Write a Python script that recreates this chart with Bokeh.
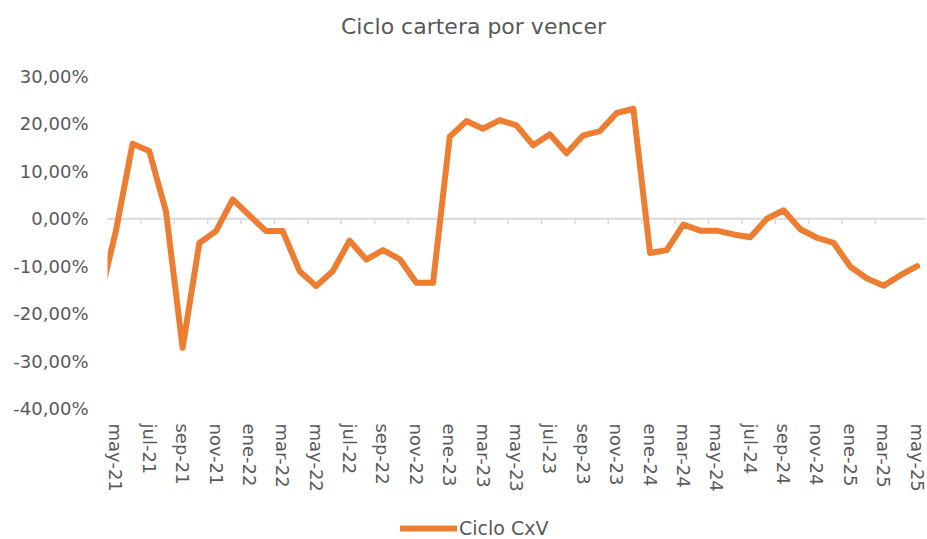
from bokeh.plotting import figure
from bokeh.layouts import column
from bokeh.models import FixedTicker, Span, Legend, LegendItem, Label, ColumnDataSource
from bokeh.embed import file_html
from bokeh.resources import INLINE

# ---- data ----
months = [
    "abr-21", "may-21", "jun-21", "jul-21", "ago-21", "sep-21", "oct-21", "nov-21", "dic-21",
    "ene-22", "feb-22", "mar-22", "abr-22", "may-22", "jun-22", "jul-22", "ago-22", "sep-22",
    "oct-22", "nov-22", "dic-22",
    "ene-23", "feb-23", "mar-23", "abr-23", "may-23", "jun-23", "jul-23", "ago-23", "sep-23",
    "oct-23", "nov-23", "dic-23",
    "ene-24", "feb-24", "mar-24", "abr-24", "may-24", "jun-24", "jul-24", "ago-24", "sep-24",
    "oct-24", "nov-24", "dic-24",
    "ene-25", "feb-25", "mar-25", "abr-25", "may-25",
]
ciclo_cxv = [
    -17.4, -2.6, 15.8, 14.3, 1.6, -27.2, -5.1, -2.6, 4.1,
    0.7, -2.6, -2.6, -11.0, -14.2, -11.0, -4.6, -8.6, -6.6,
    -8.5, -13.5, -13.5,
    17.3, 20.6, 19.0, 20.8, 19.7, 15.5, 17.8, 13.8, 17.6,
    18.5, 22.3, 23.2,
    -7.2, -6.6, -1.2, -2.5, -2.5, -3.3, -3.9, 0.0, 1.8,
    -2.2, -4.0, -5.1,
    -10.1, -12.6, -14.1, -11.9, -10.0,
]
y_ticks = [-40, -30, -20, -10, 0, 10, 20, 30]
y_tick_labels = ["-40,00%", "-30,00%", "-20,00%", "-10,00%", "0,00%", "10,00%", "20,00%", "30,00%"]
x_tick_labels = ["may-21", "jul-21", "sep-21", "nov-21", "ene-22", "mar-22", "may-22", "jul-22",
                 "sep-22", "nov-22", "ene-23", "mar-23", "may-23", "jul-23", "sep-23", "nov-23",
                 "ene-24", "mar-24", "may-24", "jul-24", "sep-24", "nov-24", "ene-25", "mar-25",
                 "may-25"]
title_text = "Ciclo cartera por vencer"
series_name = "Ciclo CxV"

# index: may-21 -> 0 (abr-21 -> -1, clipped at the left edge)
x_idx = [i - 1 for i in range(len(months))]
src = ColumnDataSource(dict(x=x_idx, y=ciclo_cxv, mes=months))

x_tick_pos = [x_idx[months.index(m)] for m in x_tick_labels]
boundary_pos = [t - 0.5 for t in x_tick_pos[:-1]]

FONT = "DejaVu Sans"
GREY = "#595959"
ORANGE = "#ED7D31"

W = 927
H_TITLE, H_MAIN, H_LEG = 64, 446, 29


def strip(height):
    f = figure(width=W, height=height, output_backend="svg", toolbar_location=None,
               x_axis_location=None, y_axis_location=None, min_border=0,
               x_range=(0, 1), y_range=(0, 1))
    f.outline_line_color = None
    f.xgrid.visible = False
    f.ygrid.visible = False
    f.background_fill_color = "white"
    f.border_fill_color = "white"
    return f


# ---- title strip ----
pt = strip(H_TITLE)
pt.add_layout(Label(x=366, y=38, x_units="screen", y_units="screen", text=title_text,
                    text_align="center", text_baseline="middle", text_font=FONT,
                    text_font_size="22px", text_color=GREY))

# ---- main chart ----
p = figure(width=W, height=H_MAIN, output_backend="svg", toolbar_location=None,
           x_range=(-0.5, 48.5), y_range=(-40, 30),
           min_border_left=107, min_border_right=2, min_border_top=12, min_border_bottom=102)
p.outline_line_color = None
p.background_fill_color = "white"
p.border_fill_color = "white"
p.xgrid.visible = False
p.ygrid.visible = False

# zero line + category tick marks
p.add_layout(Span(location=0, dimension="width", line_color="#D9D9D9", line_width=2, level="underlay"))
p.segment(x0=boundary_pos, y0=[0] * len(boundary_pos), x1=boundary_pos, y1=[-1.1] * len(boundary_pos),
          line_color="#D9D9D9", line_width=1.5)

line_style = dict(line_color=ORANGE, line_width=6, line_join="round", line_cap="round")
p.line("x", "y", source=src, **line_style)

# y axis
p.yaxis.ticker = FixedTicker(ticks=y_ticks)
p.yaxis.major_label_overrides = {t: l for t, l in zip(y_ticks, y_tick_labels)}
p.yaxis.axis_line_color = None
p.yaxis.major_tick_line_color = None
p.yaxis.minor_tick_line_color = None
p.yaxis.major_tick_out = 0
p.yaxis.major_tick_in = 0
p.yaxis.major_label_standoff = 19
p.yaxis.major_label_text_font = FONT
p.yaxis.major_label_text_font_size = "18px"
p.yaxis.major_label_text_color = GREY

# x axis
p.xaxis.ticker = FixedTicker(ticks=x_tick_pos)
p.xaxis.major_label_overrides = {t: l for t, l in zip(x_tick_pos, x_tick_labels)}
p.xaxis.major_label_orientation = "vertical"
p.xaxis.axis_line_color = None
p.xaxis.major_tick_line_color = None
p.xaxis.minor_tick_line_color = None
p.xaxis.major_tick_out = 0
p.xaxis.major_tick_in = 0
p.xaxis.major_label_standoff = 15
p.xaxis.major_label_text_font = FONT
p.xaxis.major_label_text_font_size = "18px"
p.xaxis.major_label_text_color = GREY

# ---- legend strip ----
pl = strip(H_LEG)
# legend sample renderer: kept outside the strip's visible range
r_leg = pl.line(x=[-2, -1], y=[-2, -1], **line_style)
legend = Legend(items=[LegendItem(label=series_name, renderers=[r_leg])],
                location=(293, 0), orientation="horizontal",
                glyph_width=57, glyph_height=20, label_standoff=2,
                padding=0, margin=0,
                border_line_color=None, background_fill_alpha=0,
                label_text_font=FONT, label_text_font_size="19px", label_text_color=GREY)
pl.add_layout(legend)

layout = column(pt, p, pl, spacing=0)
open("out.html", "w").write(file_html(layout, INLINE))
